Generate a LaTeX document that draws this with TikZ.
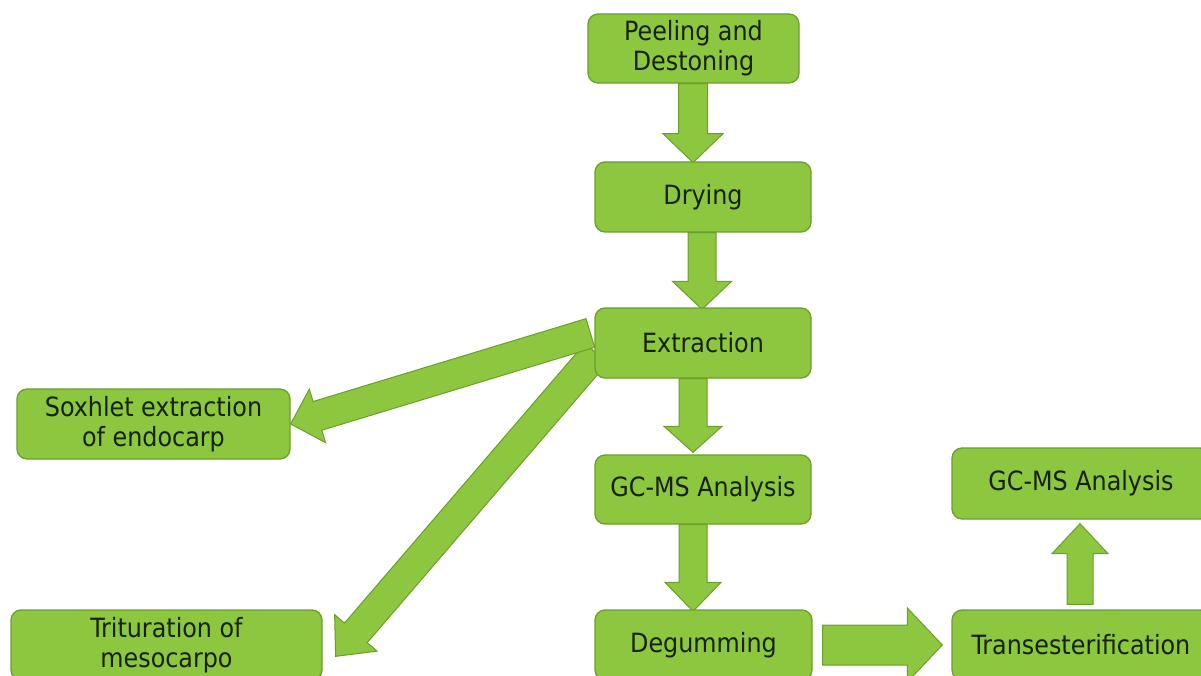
\documentclass[tikz,border=0pt]{standalone}
\usepackage{fontspec}
\setmainfont{DejaVu Sans Condensed}
\usetikzlibrary{calc}
\definecolor{boxfill}{RGB}{141,198,63}
\definecolor{boxline}{RGB}{108,158,42}
\definecolor{txt}{RGB}{22,34,12}
\pgfdeclarelayer{bg}
\pgfsetlayers{bg,main}
\newcommand\blockarrow[5]{% start, end, shaft half, head half, head length
  \filldraw[arrowstyle]
    ($(#1)!#3pt!90:(#2)$) --
    ($(#2)!#5pt!(#1)!#3pt!-90:(#1)$) --
    ($(#2)!#5pt!(#1)!#4pt!-90:(#1)$) --
    (#2) --
    ($(#2)!#5pt!(#1)!#4pt!90:(#1)$) --
    ($(#2)!#5pt!(#1)!#3pt!90:(#1)$) --
    ($(#1)!#3pt!-90:(#2)$) -- cycle;}
\begin{document}
\begin{tikzpicture}[x=1pt,y=-1pt,
  box/.style={draw=boxline, line width=1.3pt, fill=boxfill, rounded corners=10pt,
    inner sep=0pt, align=center, text=txt,
    font=\fontsize{26.5}{30}\selectfont},
  arrowstyle/.style={draw=boxline, line width=1pt, fill=boxfill, line join=miter}]
\useasboundingbox (0,0) rectangle (1201,676);
\clip (0,0) rectangle (1201,676);
% nodes
\node[box, minimum width=211pt, minimum height=69pt] (peel) at (693.5,48.5) {Peeling and\\Destoning};
\node[box, minimum width=216pt, minimum height=70pt] (dry) at (703,197) {Drying};
\node[box, minimum width=216pt, minimum height=70pt] (ext) at (703,343) {Extraction};
\node[box, minimum width=216pt, minimum height=69pt] (gca) at (703,489.5) {GC-MS Analysis};
\node[box, minimum width=217pt, minimum height=70pt] (deg) at (703.5,645) {Degumming};
\node[box, minimum width=273pt, minimum height=70pt] (sox) at (153.5,424) {Soxhlet extraction\\of endocarp};
\node[box, minimum width=311pt, minimum height=70pt] (trit) at (166.5,645) {Trituration of\\mesocarpo};
\node[box, minimum width=258pt, minimum height=71pt] (gcb) at (1081,483.5) {GC-MS Analysis};
\node[box, minimum width=258pt, minimum height=70pt] (trans) at (1081,645) {Transesterification};
% connector end points
\coordinate (a1s) at ($(peel.south)+(-0.5,0)$);
\coordinate (a1e) at ($(peel.south)+(-0.5,79)$);
\coordinate (a2s) at ($(dry.south)+(-1,0)$);
\coordinate (a2e) at ($(ext.north)+(-1,2)$);
\coordinate (a3s) at ($(ext.south)+(-10,0)$);
\coordinate (a3e) at ($(gca.north)+(-10,-2)$);
\coordinate (a4s) at ($(gca.south)+(-10,0)$);
\coordinate (a4e) at ($(deg.north)+(-10.5,2)$);
\coordinate (a5s) at ($(deg.east)+(10,0)$);
\coordinate (a5e) at ($(trans.west)+(-9,0)$);
\coordinate (a6s) at ($(trans.north)+(-1,-5)$);
\coordinate (a6e) at ($(gcb.south)+(-1,4)$);
\coordinate (a7s) at ($(ext.west)+(-4,-10)$);
\coordinate (a7e) at (sox.east);
\coordinate (a8s) at ($(ext.west)+(2,10)$);
\coordinate (a8e) at ($(trit.north east)+(13,47)$);
% connectors
\begin{pgfonlayer}{bg}
\blockarrow{a1s}{a1e}{14.5}{30}{29}
\blockarrow{a2s}{a2e}{14}{29.5}{28}
\blockarrow{a3s}{a3e}{14}{29}{26}
\blockarrow{a4s}{a4e}{14}{28}{29}
\blockarrow{a5s}{a5e}{20}{37}{35}
\blockarrow{a6s}{a6e}{13}{28}{30}
\blockarrow{a8s}{a8e}{15}{28}{31}
\blockarrow{a7s}{a7e}{15}{28}{28}
\end{pgfonlayer}
\end{tikzpicture}
\end{document}
